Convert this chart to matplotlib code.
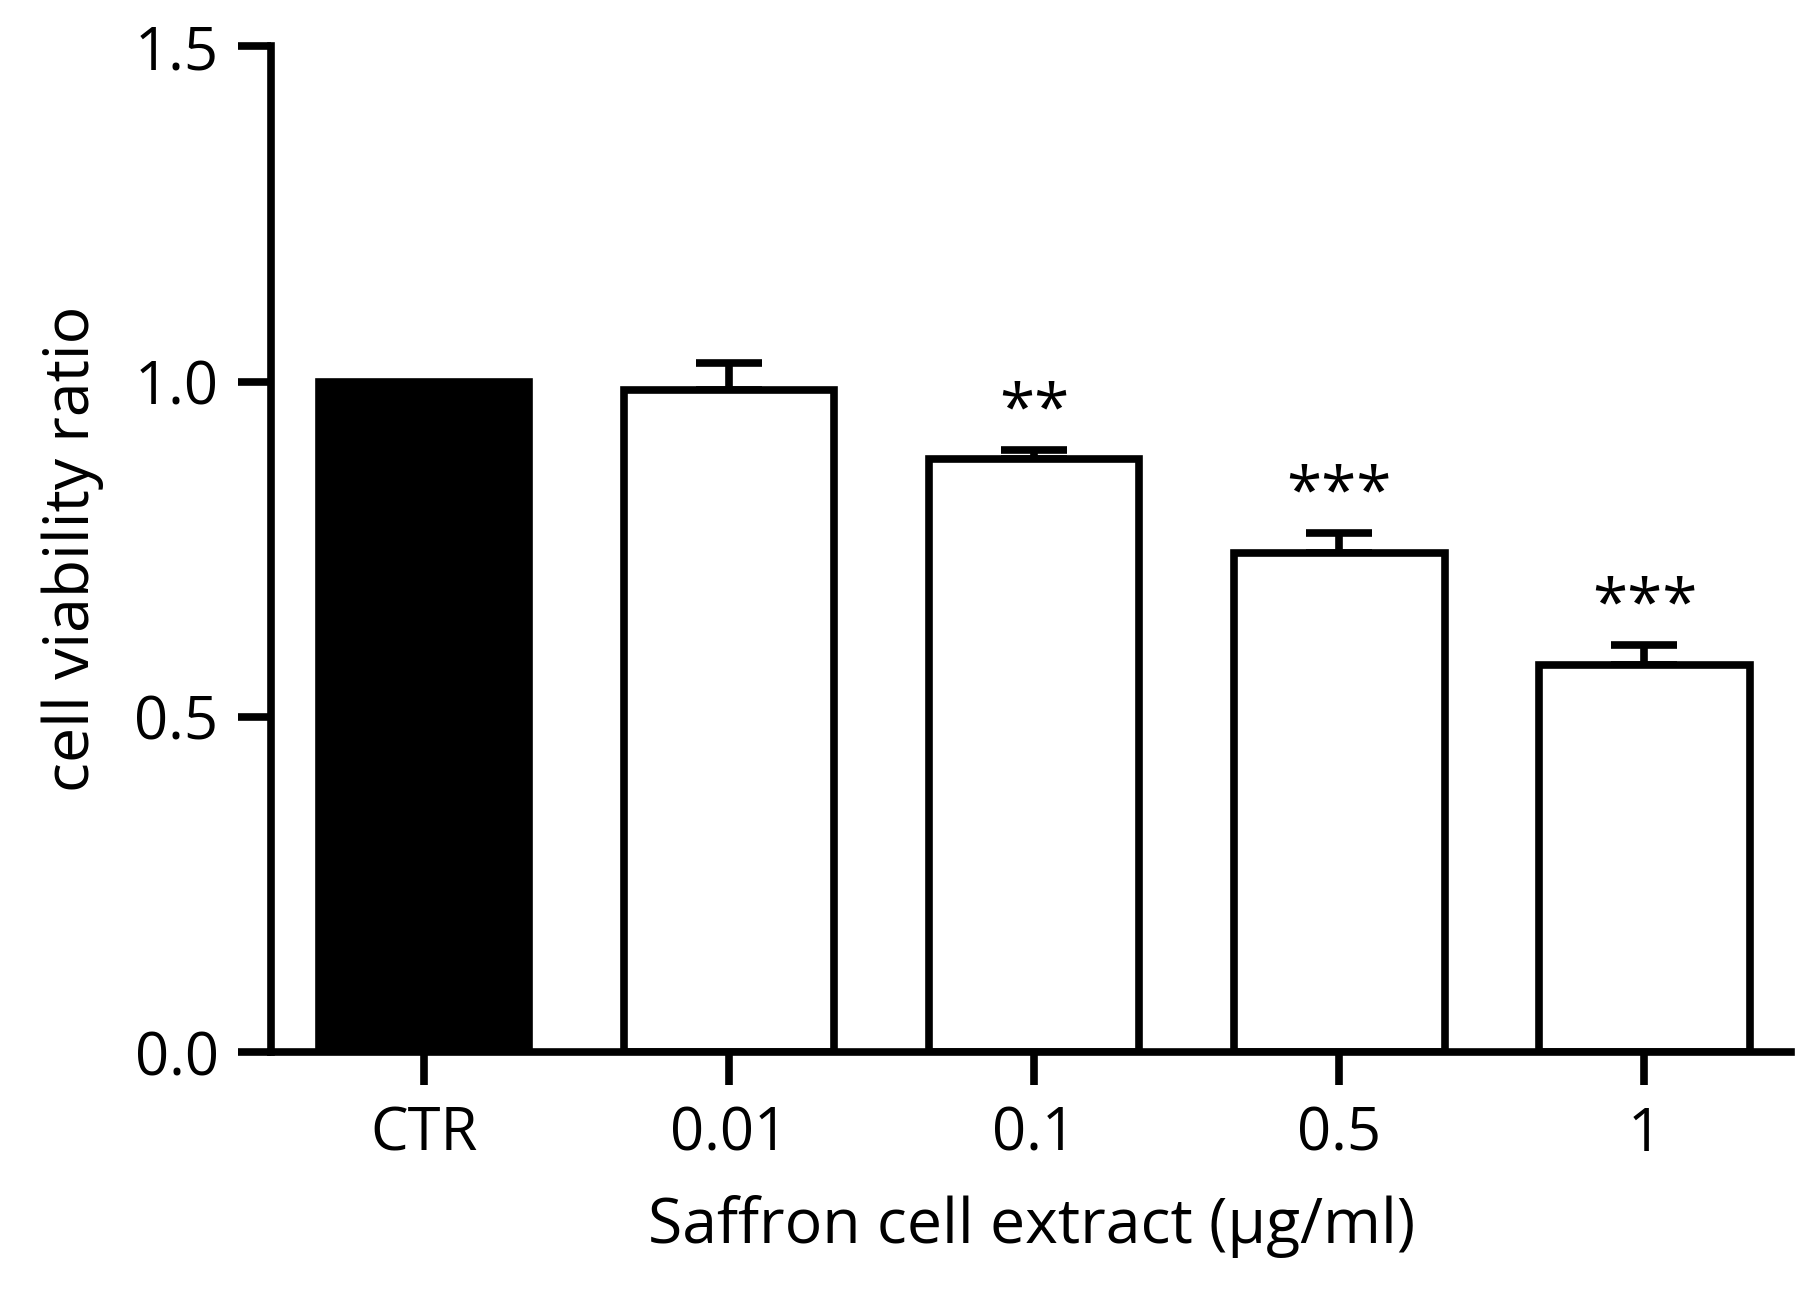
import matplotlib
matplotlib.use("Agg")
import matplotlib.pyplot as plt

categories = ["CTR", "0.01", "0.1", "0.5", "1"]
values = [1.0, 0.988, 0.884, 0.745, 0.578]
errors = [0.0, 0.040, 0.014, 0.029, 0.029]
stars = ["", "", "**", "***", "***"]

plt.rcParams['font.family'] = ['Open Sans', 'DejaVu Sans']
fig = plt.figure(figsize=(18.09, 12.91), dpi=100)
ax = fig.add_axes([0.15, 0.185, 0.84, 0.779])
lw = 5.5
x = list(range(len(categories)))
colors = ['black'] + ['white'] * 4
ax.bar(x, values, width=0.69, color=colors, edgecolor='black', linewidth=lw, zorder=2)
for xi, v, e, s in zip(x, values, errors, stars):
    if e > 0:
        ax.errorbar(xi, v, yerr=[[0], [e]], fmt='none', ecolor='black', elinewidth=lw,
                    capsize=24, capthick=lw, zorder=1)
    if s:
        ax.text(xi, v + e + 0.008, s, ha='center', va='bottom', fontsize=46)
ax.set_xlim(-0.5, 4.48)
ax.set_ylim(0, 1.5)
ax.set_yticks([0.0, 0.5, 1.0, 1.5])
ax.set_yticklabels(["0.0", "0.5", "1.0", "1.5"])
ax.set_xticks(x)
ax.set_xticklabels(categories)
for sp in ['top', 'right']:
    ax.spines[sp].set_visible(False)
for sp in ['left', 'bottom']:
    ax.spines[sp].set_linewidth(lw)
ax.tick_params(width=lw, length=24, labelsize=43, pad=14)
ax.set_ylabel("cell viability ratio", fontsize=45, labelpad=22)
ax.set_xlabel("Saffron cell extract (μg/ml)", fontsize=45, labelpad=22)
fig.savefig("out.png", dpi=100)
